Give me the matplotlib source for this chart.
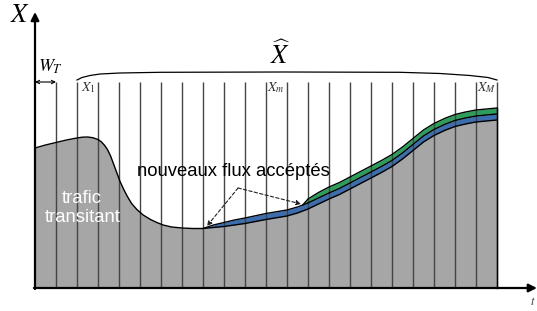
import numpy as np
import matplotlib
matplotlib.use("Agg")
import matplotlib.pyplot as plt

plt.rcParams['mathtext.fontset'] = 'stix'
plt.rcParams['font.family'] = ['Liberation Sans', 'DejaVu Sans']

# time (in slots of width W_T) and traffic levels
t = np.array([0, 0.5, 1, 1.5, 2, 2.25, 2.5, 2.75, 3, 3.15, 3.3, 3.45, 3.6, 3.75, 3.9,
              4.05, 4.25, 4.4, 4.6, 4.85, 5.15, 5.5, 5.8, 6.1, 6.5, 7, 7.5, 8, 8.5,
              9, 9.5, 10, 11, 12, 12.5, 12.75, 13, 13.5, 14, 14.5, 15, 15.5, 16,
              16.5, 17, 17.5, 18, 18.5, 19, 19.5, 20, 20.5, 21, 21.5, 22])
transit = np.array([140, 143, 145.5, 148, 150, 150.8, 151, 150.3, 148.5, 146.3, 143, 138.5, 132, 123.5, 115,
                    106.5, 97.5, 91.5, 84.5, 78.5, 73, 68.5, 65.5, 63, 61, 60, 59.5, 59.5, 60.5,
                    61.5, 63, 64.5, 68.5, 72, 75, 77, 79, 84, 89, 93.5, 99, 104.5, 110,
                    115.5, 121.5, 129, 137.5, 146, 152.5, 157.5, 161.5, 164, 166, 167, 168])
new_flux_1 = np.array([0, 0, 0, 0, 0, 0, 0, 0, 0, 0, 0, 0, 0, 0, 0,
                       0, 0, 0, 0, 0, 0, 0, 0, 0, 0, 0, 0, 0, 2.5,
                       4, 5, 5.5, 6, 6, 6, 6, 6, 6, 6, 6, 6, 6, 6,
                       6, 6, 6, 6, 6, 6, 6, 6, 6, 6, 6, 6])
new_flux_2 = np.array([0, 0, 0, 0, 0, 0, 0, 0, 0, 0, 0, 0, 0, 0, 0,
                       0, 0, 0, 0, 0, 0, 0, 0, 0, 0, 0, 0, 0, 0,
                       0, 0, 0, 0, 0, 0, 0, 4, 5.5, 6, 6, 6, 6, 6,
                       6, 6, 6, 6, 6, 6, 6, 6, 6, 6, 6, 6])
slots = np.arange(1, 23)
slot_top = 206

# brace over the window X^
brace_x = [2.0, 2.24, 2.62, 3.1, 4.05, 5.95, 11.9, 17.38, 19.29, 20.71, 21.57, 22.0]
brace_y = [208, 210.5, 212.5, 214, 215, 215.7, 216, 215.7, 214.5, 212.5, 210.5, 208]

gray = '#a6a6a6'
blue = '#3b6daf'
green = '#2e9d5c'

fig = plt.figure(figsize=(5.37, 3.11), dpi=100)
ax = fig.add_axes([0, 0, 1, 1])
ax.set_xlim(-35 / 21, 502 / 21)
ax.set_ylim(-23, 288)
ax.axis('off')

lvl1 = transit + new_flux_1
lvl2 = lvl1 + new_flux_2

ax.fill_between(t, 0, transit, color=gray, lw=0, zorder=1)
m1 = (new_flux_1 > 0) | np.r_[new_flux_1[1:] > 0, False]
m2 = (new_flux_2 > 0) | np.r_[new_flux_2[1:] > 0, False]
ax.fill_between(t, transit, lvl1, where=m1, color=blue, lw=0, zorder=1)
ax.fill_between(t, lvl1, lvl2, where=m2, color=green, lw=0, zorder=1)

ax.vlines(slots, 0, slot_top, color='#454545', lw=1.0, zorder=2)

ax.plot(t, transit, color='k', lw=1.0, zorder=3)
ax.plot(t[m1], lvl1[m1], color='k', lw=1.0, zorder=3)
ax.plot(t[m2], lvl2[m2], color='k', lw=1.0, zorder=3)
ax.plot([22, 22], [0, lvl2[-1]], color='k', lw=1.0, zorder=3)

# axes
ax.annotate('', xy=(0, 276), xytext=(0, -1),
            arrowprops=dict(arrowstyle='-|>', lw=1.6, color='k',
                            mutation_scale=12, shrinkA=0, shrinkB=0), zorder=5)
ax.annotate('', xy=(23.9, 0), xytext=(-0.05, 0),
            arrowprops=dict(arrowstyle='-|>', lw=1.6, color='k',
                            mutation_scale=12, shrinkA=0, shrinkB=0), zorder=5)
ax.text(-0.72, 273, '$X$', fontsize=19, ha='center', va='center')
ax.text(23.72, -14, '$t$', fontsize=9, ha='center', va='center', color='#444444')

# W_T
ax.annotate('', xy=(1, slot_top), xytext=(0, slot_top),
            arrowprops=dict(arrowstyle='<->', lw=0.8, color='k',
                            mutation_scale=6, shrinkA=0, shrinkB=0))
ax.text(0.72, 221, '$W_T$', fontsize=13, ha='center', va='center')

# window
ax.plot(brace_x, brace_y, color='k', lw=0.9)
ax.text(11.71, 233, r'$\widehat{X}$', fontsize=19, ha='center', va='center')
ax.text(2.52, 200, '$X_1$', fontsize=10, ha='center', va='center', color='#333333')
ax.text(11.48, 200, '$X_m$', fontsize=10, ha='center', va='center', color='#333333')
ax.text(21.52, 200, '$X_M$', fontsize=10, ha='center', va='center', color='#333333')

# labels
ax.text(2.25, 80, 'trafic\ntransitant', color='white', fontsize=13.3,
        ha='center', va='center', linespacing=1.2, zorder=4)
ax.text(9.43, 116, 'nouveaux flux accéptés', color='k', fontsize=13.3,
        ha='center', va='center', zorder=4)
apex = (9.67, 100)
for target in [(8.19, 62), (12.67, 84)]:
    ax.annotate('', xy=target, xytext=apex,
                arrowprops=dict(arrowstyle='-|>', lw=0.8, ls=(0, (3, 2)),
                                color='#222222', mutation_scale=7,
                                shrinkA=0, shrinkB=0), zorder=4)

fig.savefig('out.png', dpi=100)
